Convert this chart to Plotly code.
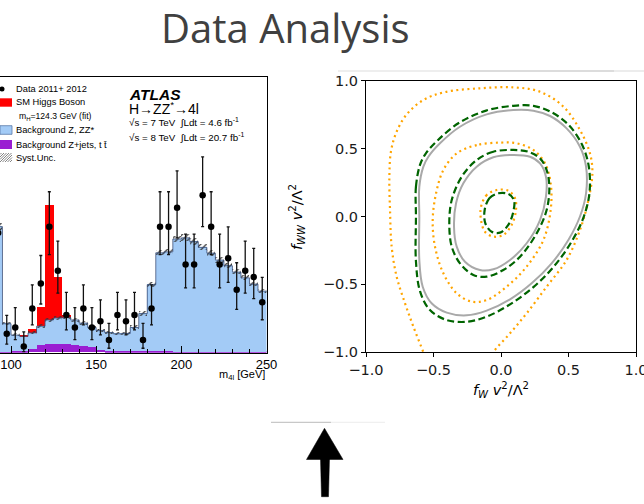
import plotly.graph_objects as go

W, H = 644, 504
def px(x): return x / W
def py(y): return 1 - y / H

# ---------------- histogram data (ATLAS H->ZZ*->4l, events / 5 GeV) ----------------
bin_centers = [92.5, 97.5, 102.5, 107.5, 112.5, 117.5, 122.5, 127.5, 132.5, 137.5,
               142.5, 147.5, 152.5, 157.5, 162.5, 167.5, 172.5, 177.5, 182.5, 187.5,
               192.5, 197.5, 202.5, 207.5, 212.5, 217.5, 222.5, 227.5, 232.5, 237.5,
               242.5, 247.5]
bkg_zjets_tt = [0.10, 0.10, 0.15, 0.30, 0.60, 1.10, 1.30, 1.35, 1.30, 1.15,
                0.95, 0.80, 0.45, 0.30, 0.22, 0.20, 0.18, 0.17, 0.16, 0.15,
                0.15, 0.14, 0.13, 0.12, 0.11, 0.10, 0.10, 0.09, 0.09, 0.08,
                0.08, 0.07]
bkg_zz = [19.9, 4.5, 2.65, 2.3, 2.55, 3.1, 3.9, 4.15, 4.3, 4.05,
          3.75, 3.2, 3.05, 2.9, 2.78, 2.85, 3.82, 6.03, 10.64, 15.7,
          15.85, 17.9, 18.1, 17.5, 16.6, 15.7, 14.6, 13.7, 12.7, 11.8,
          10.8, 9.7]
sig_higgs = [0, 0, 0, 0.2, 0.5, 3.0, 18.2, 6.5, 0.3, 0,
             0, 0, 0, 0, 0, 0, 0, 0, 0, 0,
             0, 0, 0, 0, 0, 0, 0, 0, 0, 0,
             0, 0]
syst_unc = [0.6, 0.25, 0.2, 0.2, 0.2, 0.25, 0.3, 0.3, 0.3, 0.3,
            0.3, 0.25, 0.25, 0.25, 0.25, 0.25, 0.3, 0.35, 0.4, 0.45,
            0.45, 0.5, 0.5, 0.5, 0.45, 0.45, 0.45, 0.4, 0.4, 0.4,
            0.35, 0.35]
data_counts = [19, 3, 4, 1, 7, 11, 20, 13, 6, 4,
               7, 4, 5, 2, 6, 5, 6, 2, 7, 20,
               20, 23, 14, 14, 25, 20, 14, 15, 10, 13,
               12, 8]
data_err_up = [5.43, 2.92, 3.16, 2.30, 3.77, 4.42, 5.54, 4.70, 3.58, 3.16,
               3.77, 3.16, 3.38, 2.64, 3.58, 3.38, 3.58, 2.64, 3.77, 5.54,
               5.54, 5.86, 4.83, 4.83, 6.06, 5.54, 4.83, 4.96, 4.27, 4.70,
               4.56, 3.94]
data_err_down = [4.32, 1.63, 1.91, 0.83, 2.58, 3.27, 4.44, 3.56, 2.38, 1.91,
                 2.58, 1.91, 2.16, 1.29, 2.38, 2.16, 2.38, 1.29, 2.58, 4.44,
                 4.44, 4.78, 3.70, 3.70, 4.99, 4.44, 3.70, 3.83, 3.11, 3.56,
                 3.42, 2.77]
hist_ticks = [100, 150, 200, 250]

# ---------------- contour data (f_W vs f_WW) ----------------
orange_outer_x = [-0.55, -0.575, -0.649, -0.711, -0.773, -0.81, -0.822, -0.827, -0.815, -0.775, -0.70, -0.58, -0.42, -0.156, 0.091, 0.289, 0.462, 0.585, 0.659, 0.677, 0.647, 0.585, 0.486, 0.338, 0.190, 0.067, -0.057, -0.09]
orange_outer_y = [-1.07, -1.0, -0.811, -0.639, -0.443, -0.222, 0.048, 0.293, 0.48, 0.62, 0.75, 0.855, 0.915, 0.944, 0.951, 0.919, 0.809, 0.637, 0.465, 0.318, 0.121, -0.099, -0.320, -0.517, -0.713, -0.860, -1.0, -1.07]

green_outer_x = [-0.63, -0.63, -0.60, -0.56, -0.47, -0.31, -0.11, 0.09, 0.24, 0.37, 0.50, 0.60, 0.65, 0.655, 0.61, 0.52, 0.39, 0.24, 0.07, -0.10, -0.25, -0.41, -0.53, -0.60, -0.63, -0.63]
green_outer_y = [-0.003, 0.22, 0.38, 0.46, 0.56, 0.69, 0.78, 0.815, 0.815, 0.77, 0.675, 0.53, 0.37, 0.17, -0.01, -0.19, -0.37, -0.52, -0.645, -0.735, -0.775, -0.76, -0.685, -0.55, -0.33, -0.003]

gray_outer_x = [-0.605, -0.605, -0.575, -0.538, -0.452, -0.304, -0.106, 0.091, 0.240, 0.363, 0.486, 0.585, 0.630, 0.630, 0.585, 0.499, 0.375, 0.227, 0.067, -0.106, -0.254, -0.402, -0.514, -0.580, -0.605, -0.605]
gray_outer_y = [-0.003, 0.22, 0.367, 0.44, 0.539, 0.661, 0.752, 0.784, 0.779, 0.740, 0.649, 0.514, 0.367, 0.171, 0.0, -0.173, -0.345, -0.492, -0.610, -0.693, -0.728, -0.708, -0.639, -0.517, -0.320, -0.003]

orange_mid_x = [-0.007, -0.18, -0.328, -0.427, -0.481, -0.506, -0.489, -0.427, -0.328, -0.217, -0.106, 0.042, 0.190, 0.314, 0.368, 0.368, 0.326, 0.240, 0.116, -0.007]
orange_mid_y = [0.544, 0.526, 0.465, 0.342, 0.171, -0.026, -0.222, -0.418, -0.566, -0.627, -0.615, -0.517, -0.369, -0.173, 0.048, 0.244, 0.391, 0.490, 0.539, 0.544]

green_mid_x = [0.091, -0.057, -0.18, -0.291, -0.365, -0.383, -0.365, -0.304, -0.205, -0.106, 0.017, 0.141, 0.264, 0.338, 0.358, 0.338, 0.289, 0.202, 0.091]
green_mid_y = [0.490, 0.477, 0.416, 0.293, 0.121, -0.05, -0.222, -0.345, -0.431, -0.443, -0.394, -0.296, -0.124, 0.048, 0.22, 0.342, 0.428, 0.477, 0.490]

gray_mid_x = [0.091, -0.057, -0.18, -0.279, -0.333, -0.348, -0.328, -0.267, -0.156, -0.057, 0.067, 0.190, 0.289, 0.333, 0.333, 0.289, 0.215, 0.091]
gray_mid_y = [0.453, 0.436, 0.367, 0.244, 0.097, -0.075, -0.222, -0.333, -0.394, -0.389, -0.320, -0.197, -0.026, 0.146, 0.293, 0.391, 0.440, 0.453]

orange_in_x = [-0.032, -0.106, -0.148, -0.148, -0.119, -0.057, 0.017, 0.079, 0.111, 0.104, 0.054, -0.032]
orange_in_y = [0.195, 0.158, 0.072, -0.026, -0.112, -0.148, -0.136, -0.062, 0.048, 0.134, 0.190, 0.195]

green_in_x = [-0.02, -0.086, -0.121, -0.116, -0.069, -0.007, 0.054, 0.091, 0.096, 0.054, -0.02]
green_in_y = [0.171, 0.134, 0.048, -0.05, -0.112, -0.119, -0.062, 0.035, 0.121, 0.166, 0.171]

contour_ticks = [-1.0, -0.5, 0.0, 0.5, 1.0]
contour_ticktext = ["\u22121.0", "\u22120.5", "0.0", "0.5", "1.0"]

# ---------------- colours ----------------
PURPLE = "#9a1ed2"
BLUE = "#a3cbf6"
RED = "#ff0000"
ORANGE = "#ffa500"
GREEN = "#006400"
GRAY = "#a9a9a9"
HFONT = "Liberation Sans"
MFONT = "DejaVu Sans"

fig = go.Figure()

base_blue = list(bkg_zjets_tt)
base_red = [a + b for a, b in zip(bkg_zjets_tt, bkg_zz)]
bkg_total = base_red
hatch_base = [t - u for t, u in zip(bkg_total, syst_unc)]
hatch_h = [2 * u for u in syst_unc]

common = dict(width=5, xaxis="x", yaxis="y", showlegend=False, opacity=1, hoverinfo="skip")
fig.add_trace(go.Bar(x=bin_centers, y=bkg_zjets_tt, base=[0] * len(bin_centers),
                     marker=dict(color=PURPLE, line=dict(width=0)), **common))
fig.add_trace(go.Bar(x=bin_centers, y=bkg_zz, base=base_blue,
                     marker=dict(color=BLUE, line=dict(width=0)), **common))
fig.add_trace(go.Bar(x=bin_centers, y=sig_higgs, base=base_red,
                     marker=dict(color=RED, line=dict(width=0)), **common))
fig.add_trace(go.Bar(x=bin_centers, y=hatch_h, base=hatch_base,
                     marker=dict(color="rgba(0,0,0,0)", line=dict(width=0),
                                 pattern=dict(shape="/", fgcolor="#333333",
                                              bgcolor="rgba(0,0,0,0)", size=4,
                                              solidity=0.3, fillmode="replace")),
                     **common))
# step outline of total background
edges = [c - 2.5 for c in bin_centers] + [bin_centers[-1] + 2.5]
fig.add_trace(go.Scatter(x=edges, y=bkg_total + [bkg_total[-1]], mode="lines",
                         line=dict(color="#3a4f7a", width=0.8, shape="hv"),
                         xaxis="x", yaxis="y", showlegend=False, hoverinfo="skip"))
fig.add_trace(go.Scatter(x=bin_centers, y=data_counts, mode="markers",
                         marker=dict(color="black", size=6.5),
                         error_y=dict(type="data", symmetric=False, array=data_err_up,
                                      arrayminus=data_err_down, thickness=1.3, width=1.5,
                                      color="#111111"),
                         xaxis="x", yaxis="y", showlegend=False, hoverinfo="skip"))

# contours
def add_curve(xs, ys, color, dash, width):
    fig.add_trace(go.Scatter(x=xs, y=ys, mode="lines",
                             line=dict(color=color, dash=dash, width=width, shape="spline", smoothing=1.0),
                             xaxis="x2", yaxis="y2", showlegend=False, hoverinfo="skip"))

add_curve(orange_outer_x, orange_outer_y, ORANGE, "2px,3.5px", 2.2)
add_curve(gray_outer_x, gray_outer_y, GRAY, "solid", 2.0)
add_curve(green_outer_x, green_outer_y, GREEN, "7px,3.5px", 2.2)
add_curve(orange_mid_x, orange_mid_y, ORANGE, "2px,3.5px", 2.2)
add_curve(gray_mid_x, gray_mid_y, GRAY, "solid", 2.0)
add_curve(green_mid_x, green_mid_y, GREEN, "7px,3.5px", 2.2)
add_curve(orange_in_x, orange_in_y, ORANGE, "2px,3.5px", 2.2)
add_curve(green_in_x, green_in_y, GREEN, "7px,3.5px", 2.2)

shapes = []
annotations = []

def text(x, y, s, size, font=HFONT, color="black", xanchor="left", yanchor="middle", angle=0):
    annotations.append(dict(x=px(x), y=py(y), xref="paper", yref="paper", text=s,
                            showarrow=False, xanchor=xanchor, yanchor=yanchor,
                            textangle=angle, font=dict(family=font, size=size, color=color)))

def rect(x0, y0, x1, y1, fill, line="rgba(0,0,0,0)", lw=0):
    shapes.append(dict(type="rect", xref="paper", yref="paper", x0=px(x0), x1=px(x1),
                       y0=py(y1), y1=py(y0), fillcolor=fill, line=dict(color=line, width=lw)))

def seg(x0, y0, x1, y1, color, lw):
    shapes.append(dict(type="line", xref="paper", yref="paper", x0=px(x0), y0=py(y0),
                       x1=px(x1), y1=py(y1), line=dict(color=color, width=lw)))

# title
text(285, 27.5, "Data Analysis", 40, font="Open Sans", color="#404040", xanchor="center")

# histogram legend
shapes.append(dict(type="circle", xref="paper", yref="paper", x0=px(-0.5), x1=px(4.5),
                   y0=py(91.5), y1=py(86.5), fillcolor="black", line=dict(width=0)))
text(14, 89, "Data 2011+ 2012", 9.3)
rect(0, 98.3, 12, 106.7, RED)
text(14, 102.3, "SM Higgs Boson", 9.3)
text(16.5, 116.3, "m<sub>H</sub>=124.3 GeV (fit)", 8.6)
rect(0, 125.7, 12, 134.3, BLUE, line="#5a7aa8", lw=0.8)
text(14, 130, "Background Z, ZZ*", 9.3)
rect(0, 140, 12, 149, PURPLE)
text(14, 145, "Background Z+jets, t t\u0304", 9.3)
for i in [-7.5, -5, -2.5, 0, 2.5, 5, 7.5, 10]:
    xa = max(0, i); xb = min(12, i + 9)
    if xb <= xa:
        continue
    seg(xa, 162 - (xa - i), xb, 162 - (xb - i), "#666666", 0.8)
text(14, 158.3, "Syst.Unc.", 9.3)

# ATLAS labels
text(127, 94, "<b><i>ATLAS</i></b>", 15.5)
text(127, 108.3, "H\u2192ZZ<sup>*</sup>\u21924l", 14)
text(127, 122, "\u221as = 7 TeV  \u222bLdt = 4.6 fb<sup>-1</sup>", 9.8)
text(127, 137, "\u221as = 8 TeV  \u222bLdt = 20.7 fb<sup>-1</sup>", 9.8)
text(266.5, 375, "m<sub>4l</sub> [GeV]", 11, xanchor="right")

# contour plot axis titles
text(501, 390, "<i>f</i><sub><i>W</i></sub> <i>v</i><sup>2</sup>/\u039b<sup>2</sup>", 14.5,
     font=MFONT, xanchor="center")
text(297, 217, "<i>f</i><sub><i>WW</i></sub> <i>v</i><sup>2</sup>/\u039b<sup>2</sup>", 14.5,
     font=MFONT, xanchor="center", angle=-90)

# decorative faint lines
seg(338, 71, 470, 71, "#eeeeee", 2)
seg(470, 71, 614, 71, "#dcdcdc", 2)
seg(614, 71, 644, 71, "#ececec", 2)
seg(271, 422.3, 331, 422.3, "#c8c8c8", 1.2)
seg(331, 422.3, 385, 422.3, "#f0f0f0", 1.2)

# arrow
def P(x, y):
    return f"{px(x):.5f},{py(y):.5f}"
shapes.append(dict(type="path", xref="paper", yref="paper",
                   path=f"M {P(324.5,428.3)} L {P(343,459.5)} L {P(306.5,459.5)} Z",
                   fillcolor="black", line=dict(color="black", width=0.5)))
shapes.append(dict(type="path", xref="paper", yref="paper",
                   path=f"M {P(320.5,458)} L {P(329.5,458)} L {P(328.5,496.7)} L {P(321.5,496.7)} Z",
                   fillcolor="black", line=dict(color="black", width=0.5)))

fig.update_layout(
    template="none",
    width=W, height=H, autosize=False,
    margin=dict(l=0, r=0, t=0, b=0, pad=0),
    paper_bgcolor="white", plot_bgcolor="rgba(0,0,0,0)",
    barmode="overlay", bargap=0,
    showlegend=False,
    shapes=shapes, annotations=annotations,
    xaxis=dict(domain=[0, px(266.5)], range=[93.54, 250], anchor="y",
               tickvals=hist_ticks, ticks="inside", ticklen=7, tickwidth=1, tickcolor="black",
               minor=dict(dtick=10, tick0=100, ticks="inside", ticklen=3.5, tickcolor="black", showgrid=False),
               showline=True, mirror=True, linecolor="black", linewidth=1,
               showgrid=False, zeroline=False, automargin=False, ticklabeloverflow="allow",
               tickfont=dict(family=HFONT, size=13, color="black")),
    yaxis=dict(domain=[py(352.7), py(77.3)], range=[0, 43.7], anchor="x", side="right",
               showline=True, linecolor="black", linewidth=1, ticks="",
               showticklabels=False, showgrid=False, zeroline=False, automargin=False),
    xaxis2=dict(domain=[px(366), px(636)], range=[-1, 1], anchor="y2",
                tickvals=contour_ticks, ticktext=contour_ticktext,
                ticks="outside", ticklen=4, tickwidth=1, tickcolor="black",
                showline=True, mirror=True, linecolor="black", linewidth=1,
                showgrid=False, zeroline=False, automargin=False, ticklabeloverflow="allow",
                tickfont=dict(family=MFONT, size=14.5, color="#1a1a1a")),
    yaxis2=dict(domain=[py(352.3), py(80.7)], range=[-1, 1], anchor="x2",
                tickvals=contour_ticks, ticktext=contour_ticktext,
                ticks="outside", ticklen=4, tickwidth=1, tickcolor="black",
                showline=True, mirror=True, linecolor="black", linewidth=1,
                showgrid=False, zeroline=False, automargin=False,
                tickfont=dict(family=MFONT, size=14.5, color="#1a1a1a")),
)

fig.write_html("out.html")
